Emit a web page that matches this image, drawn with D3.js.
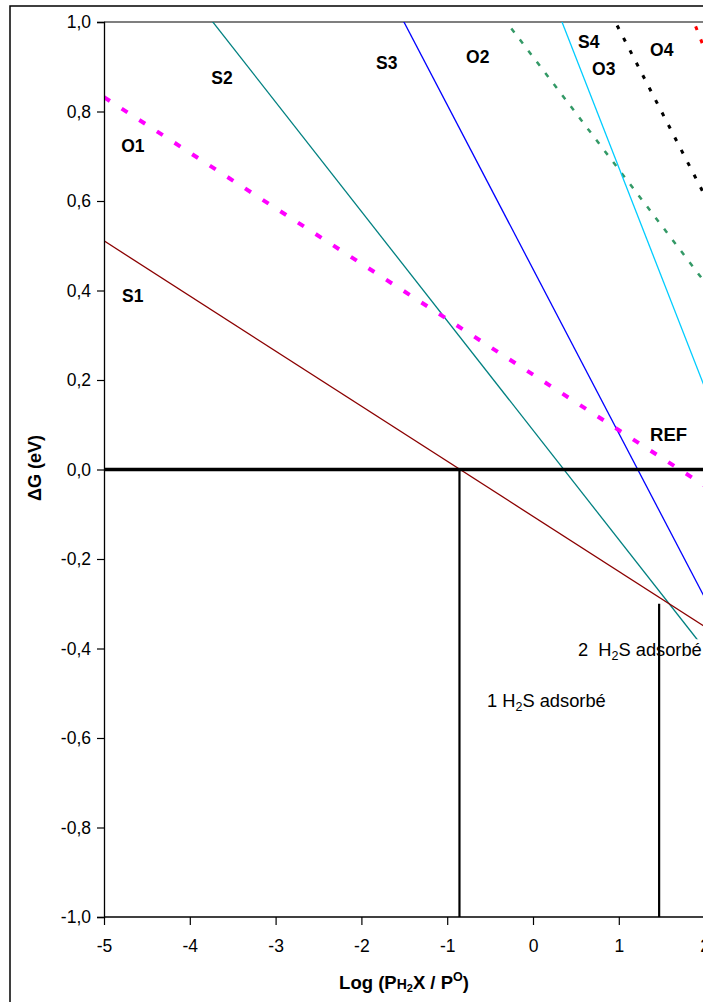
<!DOCTYPE html>
<html><head><meta charset="utf-8">
<script src="https://cdn.jsdelivr.net/npm/d3@7"></script>
<style>
html,body{margin:0;padding:0;background:#fff;overflow:hidden;}
svg{display:block;font-family:"Liberation Sans",Arial,sans-serif;}
</style></head>
<body>
<script>
// ---- data ----
const xEnds = [-5, 2];                 // log(P/P0) at the ends of each line
const S1  = [0.511, -0.351];
const S2  = [1.310, -0.401];
const S3  = [2.283, -0.286];
const S4  = [3.621, 0.184];
const O1  = [0.832, -0.036];
const O2  = [2.180, 0.419];
const O3  = [3.217, 0.613];
const O4  = [4.370, 0.939];
const REF = [0, 0];
const transX   = [-0.857, 1.47];       // vertical transition lines
const transTop = [0, -0.30];
const xTicks = [-5, -4, -3, -2, -1, 0, 1, 2];
const yTicks = [-1, -0.8, -0.6, -0.4, -0.2, 0, 0.2, 0.4, 0.6, 0.8, 1];
const labelNames = ["S1","O1","S2","S3","O2","S4","O3","O4","REF"];
const labelX = [-4.79, -4.80, -3.75, -1.83, -0.78, 0.524, 0.688, 1.364, 1.364];
const labelY = [0.388, 0.723, 0.875, 0.908, 0.922, 0.955, 0.895, 0.937, 0.079];

const W = 703, H = 1002;
const svg = d3.select("body").append("svg").attr("width", W).attr("height", H);
const x = d3.scaleLinear().domain([-5, 2]).range([104, 704.6]);
const y = d3.scaleLinear().domain([-1, 1]).range([917, 22]);

// outer chart frame
svg.append("rect").attr("x", 10).attr("y", 6).attr("width", 900).attr("height", 1100)
  .attr("fill", "none").attr("stroke", "#000").attr("stroke-width", 1.5);

// plot area frame (top)
svg.append("line").attr("x1", 104).attr("x2", 900).attr("y1", y(1)).attr("y2", y(1))
  .attr("stroke", "#000").attr("stroke-width", 1.2);

svg.append("clipPath").attr("id", "clip").append("rect")
  .attr("x", 104).attr("y", y(1)).attr("width", 800).attr("height", y(-1) - y(1));

const styles = {
  S1: {c: "#8B0000", w: 1.3, d: null},
  S2: {c: "#008080", w: 1.3, d: null},
  S3: {c: "#0000FF", w: 1.3, d: null},
  S4: {c: "#00CCFF", w: 1.3, d: null},
  O1: {c: "#FF00FF", w: 4, d: "7,14"},
  O2: {c: "#339966", w: 2.5, d: "5,9"},
  O3: {c: "#000000", w: 3, d: "4,10"},
  O4: {c: "#FF0000", w: 3, d: "4,10"},
  REF:{c: "#000000", w: 3.5, d: null}
};
const seriesVals = {S1, S2, S3, S4, O1, O2, O3, O4, REF};
const line = d3.line().x(d => x(d[0])).y(d => y(d[1]));
const g = svg.append("g").attr("clip-path", "url(#clip)");

const drawOrder = ["O2","O3","O4","S4","S3","S2","S1","O1","REF"];
drawOrder.forEach(n => {
  const st = styles[n];
  const pts = xEnds.map((xv, i) => [xv, seriesVals[n][i]]);
  g.append("path").attr("d", line(pts)).attr("fill", "none")
    .attr("stroke", st.c).attr("stroke-width", st.w)
    .attr("stroke-dasharray", st.d);
});

// axes
const yAxis = d3.axisLeft(y).tickValues(yTicks).tickSize(7).tickPadding(6)
  .tickFormat(d => d3.format(".1f")(d).replace(".", ",").replace("−", "-"));
const gy = svg.append("g").attr("transform", `translate(${x(-5)},0)`).call(yAxis);
const xAxis = d3.axisBottom(x).tickValues(xTicks).tickSize(8).tickPadding(15)
  .tickFormat(d => String(d));
const gx = svg.append("g").attr("transform", `translate(0,${y(-1)})`).call(xAxis);
[gx, gy].forEach(a => {
  a.select(".domain").attr("stroke", "#000").attr("stroke-width", 1.3);
  a.selectAll(".tick line").attr("stroke", "#000").attr("stroke-width", 1.2);
  a.selectAll(".tick text").attr("font-size", "17.5px").attr("fill", "#000")
   .attr("font-family", "Liberation Sans, Arial, sans-serif");
});
gx.select(".domain").attr("d", `M${x(-5)},0H900`);

// annotations
const ann = svg.append("g").attr("font-size", "18.3px").attr("fill", "#000");
const t2bg = ann.append("rect").attr("fill", "#fff");
const t2 = ann.append("text").attr("x", x(0.524)).attr("y", y(-0.403)).attr("dy", "0.35em");
t2.append("tspan").text("2\u00a0\u00a0H");
t2.append("tspan").attr("font-size", "12.5px").attr("dy", 4).text("2");
t2.append("tspan").attr("dy", -4).text("S adsorbé");
const bb = t2.node().getBBox();
t2bg.attr("x", bb.x - 2).attr("y", bb.y).attr("width", bb.width + 60).attr("height", bb.height);

const t1 = ann.append("text").attr("x", x(-0.536)).attr("y", y(-0.517)).attr("dy", "0.35em");
t1.append("tspan").text("1 H");
t1.append("tspan").attr("font-size", "12.5px").attr("dy", 4).text("2");
t1.append("tspan").attr("dy", -4).text("S adsorbé");

// vertical transition lines
transX.forEach((xv, i) => {
  svg.append("line").attr("x1", x(xv)).attr("x2", x(xv))
    .attr("y1", y(transTop[i])).attr("y2", y(-1))
    .attr("stroke", "#000").attr("stroke-width", 2.2);
});

// series labels
labelNames.forEach((n, i) => {
  svg.append("text").attr("x", x(labelX[i])).attr("y", y(labelY[i])).attr("dy", "0.35em")
    .attr("font-size", n === "REF" ? "18.5px" : "17.5px").attr("font-weight", "bold").text(n);
});

// axis titles
svg.append("text").attr("transform", `translate(41,468) rotate(-90)`)
  .attr("text-anchor", "middle").attr("font-weight", "bold").attr("font-size", "18px")
  .text("ΔG (eV)");
const xt = svg.append("text").attr("x", 404).attr("y", 989).attr("text-anchor", "middle")
  .attr("font-weight", "bold").attr("font-size", "18.5px");
xt.append("tspan").text("Log (P");
xt.append("tspan").attr("font-size", "14px").attr("dy", 0).text("H");
xt.append("tspan").attr("font-size", "11px").attr("dy", 3).text("2");
xt.append("tspan").attr("font-size", "18.5px").attr("dy", -3).text("X / P");
xt.append("tspan").attr("font-size", "12.5px").attr("dy", -8).text("O");
xt.append("tspan").attr("font-size", "18.5px").attr("dy", 8).text(")");
</script>
</body></html>
